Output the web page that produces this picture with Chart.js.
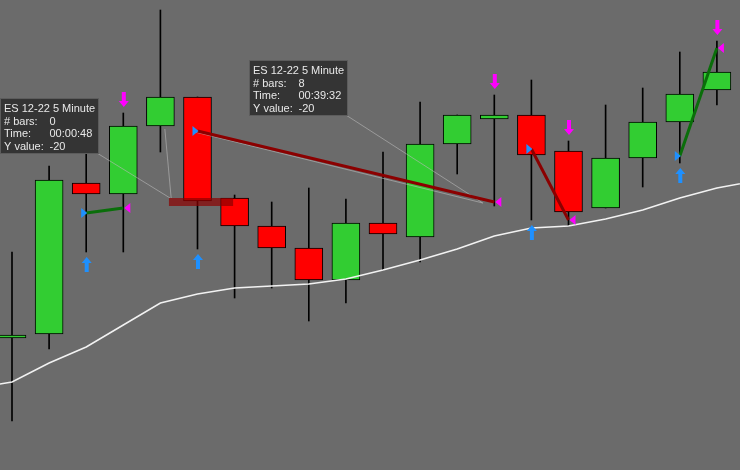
<!DOCTYPE html>
<html>
<head>
<meta charset="utf-8">
<script src="https://cdn.jsdelivr.net/npm/chart.js@4.4.0/dist/chart.umd.min.js"></script>
<style>
html, body { margin: 0; padding: 0; background: #6b6b6b; }
canvas { display: block; background: #6b6b6b; }
</style>
</head>
<body>
<canvas id="graficoVelas" width="740" height="470"></canvas>
<script>
// velas ES 12-22, 5 minutos
const opens  = [3815.5, 3816.5, 3854.25, 3851.5, 3868.5, 3875.75, 3850.5, 3843.5, 3838, 3830, 3844.25, 3840.75, 3864, 3870.25, 3871.25, 3862.25, 3848, 3860.5, 3869.5, 3877.5];
const highs  = [3837, 3858.5, 3863.75, 3871.75, 3897.5, 3875.75, 3851.25, 3849.5, 3853, 3850.25, 3862, 3874.5, 3871.25, 3876.25, 3880, 3864.75, 3873.75, 3878, 3887, 3889.75];
const lows   = [3794.75, 3812.75, 3837, 3837, 3862, 3837.75, 3825.5, 3828, 3819.75, 3824.25, 3832.5, 3834.5, 3856.5, 3848.5, 3845, 3843.5, 3848, 3853.25, 3859.25, 3873.75];
const closes = [3816.25, 3855, 3851.5, 3868.5, 3875.75, 3849.75, 3843.5, 3838, 3830, 3844.25, 3841.5, 3864, 3871.25, 3871.25, 3861.25, 3847, 3860.5, 3869.5, 3876.5, 3882];

// media movil (empieza una barra antes y termina una despues de lo visible)
const maIdx    = [-1, 0, 1, 2, 3, 4, 5, 6, 7, 8, 9, 10, 11, 12, 13, 14, 15, 16, 17, 18, 19, 20];
const maValues = [3803, 3804.5, 3809.25, 3813.25, 3818.75, 3824.25, 3826.5, 3828, 3828.5, 3829, 3830.25, 3832.5, 3835, 3837.75, 3841, 3843, 3843.5, 3845.25, 3847.5, 3850.5, 3853, 3854.75];

// señales
const buyArrowIdx  = [2, 5, 14, 18];
const sellArrowIdx = [3, 13, 15, 19];

// operaciones
const tradeEntryIdx = [2, 5, 14, 18];
const tradeEntryPx  = [3846.75, 3867.25, 3862.75, 3861];
const tradeExitIdx  = [3, 13, 15, 19];
const tradeExitPx   = [3848, 3849.5, 3845, 3888];

// notas (cuadros de datos)
const noteTitle     = "ES 12-22 5 Minute";
const noteBars      = ["0", "8"];
const noteTimes     = ["00:00:48", "00:39:32"];
const noteYValues   = ["-20", "-20"];
const noteAnchorIdx = [2.29, 9.0];
const noteAnchorPx  = [3861.75, 3871.25];
const noteTargetIdx = [4.26, 12.69];
const noteTargetPx  = [3850.5, 3849.25];

// lineas de dibujo extra
const drawFromIdx = [4.12, 4.93];
const drawFromPx  = [3867.75, 3867];
const drawToIdx   = [4.29, 12.69];
const drawToPx    = [3850.5, 3849.25];

// zona marcada
const zoneFromIdx = 4.23, zoneToIdx = 5.96, zoneLow = 3848.5, zoneHigh = 3850.5;

const GREEN = '#32cd32', RED = '#ff0000';

const datasets = [];

datasets.push({
    type: 'bar',
    label: 'mechas',
    data: opens.map((o, i) => ({x: i, y: [lows[i], highs[i]]})),
    backgroundColor: '#000',
    barThickness: 1,
    grouped: false,
    order: 10
});

datasets.push({
    type: 'bar',
    label: 'cuerpos',
    data: opens.map((o, i) => ({x: i, y: [o, closes[i]]})),
    backgroundColor: opens.map((o, i) => closes[i] >= o ? GREEN : RED),
    borderColor: '#000',
    borderWidth: 1,
    borderSkipped: false,
    barThickness: 28,
    grouped: false,
    order: 9
});

datasets.push({
    type: 'line',
    label: 'media',
    data: maIdx.map((x, i) => ({x: x, y: maValues[i]})),
    borderColor: '#f2f2f2',
    borderWidth: 1.5,
    pointRadius: 0,
    tension: 0,
    order: 5
});

drawFromIdx.forEach((x, i) => {
    datasets.push({
        type: 'line',
        data: [{x: x, y: drawFromPx[i]}, {x: drawToIdx[i], y: drawToPx[i]}],
        borderColor: 'rgba(185,185,185,0.6)',
        borderWidth: 1,
        pointRadius: 0,
        order: 4
    });
});

noteAnchorIdx.forEach((x, i) => {
    datasets.push({
        type: 'line',
        data: [{x: x, y: noteAnchorPx[i]}, {x: noteTargetIdx[i], y: noteTargetPx[i]}],
        borderColor: 'rgba(185,185,185,0.6)',
        borderWidth: 1,
        pointRadius: 0,
        order: 4
    });
});

tradeEntryIdx.forEach((x, i) => {
    datasets.push({
        type: 'line',
        data: [{x: x, y: tradeEntryPx[i]}, {x: tradeExitIdx[i], y: tradeExitPx[i]}],
        borderColor: tradeExitPx[i] >= tradeEntryPx[i] ? '#0a6e0a' : '#8b0000',
        borderWidth: 3,
        pointRadius: 0,
        order: 3
    });
});

function flecha(ctx, cx, tipY, dir, color){
    ctx.fillStyle = color;
    ctx.beginPath();
    ctx.moveTo(cx, tipY);
    ctx.lineTo(cx + 5, tipY + dir * 6);
    ctx.lineTo(cx + 2, tipY + dir * 6);
    ctx.lineTo(cx + 2, tipY + dir * 15);
    ctx.lineTo(cx - 2, tipY + dir * 15);
    ctx.lineTo(cx - 2, tipY + dir * 6);
    ctx.lineTo(cx - 5, tipY + dir * 6);
    ctx.closePath();
    ctx.fill();
}

function triangulo(ctx, tipX, y, dir, color){
    ctx.fillStyle = color;
    ctx.beginPath();
    ctx.moveTo(tipX, y);
    ctx.lineTo(tipX - dir * 6, y - 5);
    ctx.lineTo(tipX - dir * 6, y + 5);
    ctx.closePath();
    ctx.fill();
}

const extras = {
    id: 'extras',
    afterDatasetsDraw(chart){
        const ctx = chart.ctx;
        const x = chart.scales.x, y = chart.scales.y;
        ctx.save();

        // zona
        const zx1 = x.getPixelForValue(zoneFromIdx), zx2 = x.getPixelForValue(zoneToIdx);
        const zy1 = y.getPixelForValue(zoneHigh), zy2 = y.getPixelForValue(zoneLow);
        ctx.fillStyle = 'rgba(139,0,0,0.7)';
        ctx.fillRect(zx1, zy1, zx2 - zx1, zy2 - zy1);

        // entradas y salidas
        tradeEntryIdx.forEach((xi, i) => {
            triangulo(ctx, x.getPixelForValue(xi) + 1, y.getPixelForValue(tradeEntryPx[i]), 1, '#1e90ff');
            triangulo(ctx, x.getPixelForValue(tradeExitIdx[i]) + 1, y.getPixelForValue(tradeExitPx[i]), -1, '#ff00ff');
        });

        // flechas
        buyArrowIdx.forEach(i => {
            flecha(ctx, x.getPixelForValue(i) + 0.5, y.getPixelForValue(lows[i]) + 5, 1, '#1e90ff');
        });
        sellArrowIdx.forEach(i => {
            flecha(ctx, x.getPixelForValue(i) + 0.5, y.getPixelForValue(highs[i]) - 6, -1, '#ff00ff');
        });

        // cuadros de datos
        ctx.font = '11px "Liberation Sans", Arial, sans-serif';
        ctx.textBaseline = 'middle';
        noteAnchorIdx.forEach((xi, i) => {
            const ax = x.getPixelForValue(xi), ay = y.getPixelForValue(noteAnchorPx[i]);
            const left = Math.round(ax - 97) + 0.5, top = Math.round(ay - 55) + 0.5;
            ctx.fillStyle = '#343434';
            ctx.fillRect(left, top, 98, 55);
            ctx.strokeStyle = '#5c5c5c';
            ctx.lineWidth = 1;
            ctx.strokeRect(left, top, 98, 55);
            ctx.fillStyle = '#e8e8e8';
            const filas = [[noteTitle, ''], ['# bars:', noteBars[i]], ['Time:', noteTimes[i]], ['Y value:', noteYValues[i]]];
            filas.forEach((f, k) => {
                const ty = top + 10.5 + k * 12.6;
                ctx.fillText(f[0], left + 3.5, ty);
                if(f[1] !== '') ctx.fillText(f[1], left + 49, ty);
            });
        });

        ctx.restore();
    }
};

const ctx = document.getElementById('graficoVelas').getContext('2d');
const graficoVelas = new Chart(ctx, {
    type: 'bar',
    data: { datasets: datasets },
    options: {
        responsive: false,
        animation: false,
        layout: { padding: 0 },
        plugins: { legend: {display: false}, tooltip: {enabled: false} },
        scales: {
            x: { type: 'linear', min: -12 / 37.1, max: 728 / 37.1, display: false, offset: false },
            y: { type: 'linear', min: 3782.5, max: 3900, display: false }
        }
    },
    plugins: [extras]
});
</script>
</body>
</html>
